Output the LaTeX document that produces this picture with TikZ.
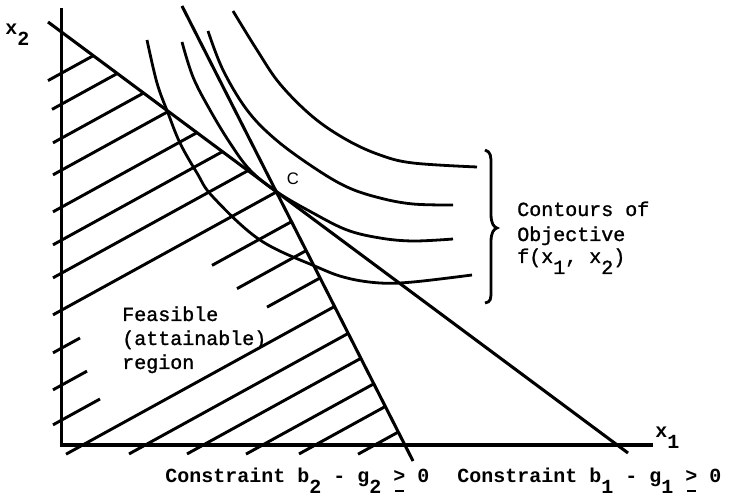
\documentclass[tikz,border=0pt]{standalone}
\usepackage{fontspec}
\setmonofont{Liberation Mono}
\newfontfamily\medmono[FakeBold=1.2]{Liberation Mono}
\newfontfamily\labelsans{Liberation Sans}
\newcommand{\sbs}[1]{\raisebox{-0.55em}{#1}}
\newcommand{\gequnder}{\makebox[0pt][l]{\hspace{0.08em}\rule[-0.5em]{0.44em}{0.1em}}>}
\begin{document}
\begin{tikzpicture}[x=0.75pt,y=-0.75pt,
  axisline/.style={line width=2.4pt},
  conline/.style={line width=2.3pt},
  hatchline/.style={line width=2.2pt},
  contour/.style={line width=2.1pt, smooth, tension=0.6},
  monotext/.style={font=\fontsize{15}{18}\selectfont\medmono, inner sep=0pt, anchor=base west},
  boldtext/.style={font=\fontsize{15}{18}\selectfont\ttfamily\bfseries, inner sep=0pt, anchor=base west}]
\useasboundingbox (0,0) rectangle (731,498);
% key points
\coordinate (O) at (61.5,445);
\coordinate (ytop) at (61.5,8);
\coordinate (xend) at (653,445);
\coordinate (A1) at (48,22);
\coordinate (B1) at (628,453);
\coordinate (A2) at (182,6);
\coordinate (B2) at (413,461);
\coordinate (C) at (278,193);
% hatching, clipped to feasible side
\begin{scope}
  \clip (0,-13.7) -- (C) -- (432,498) -- (0,498) -- cycle;
  \foreach \c/\xa/\xb in {107/48/400, 138/52/400, 172/53/400, 204/53/400, 241/53/400,
      274/53/400, 307/53/400, 344/53/400,
      382/53/80, 382/212/400, 419/53/87, 419/237/400, 454/53/100, 454/267/400,
      490.5/66/400, 524.9/129/450, 556.8/187/450, 589.4/246/450, 618.4/299/450, 651.1/358/450}
    \draw[hatchline] ({\xa},{\c-0.55*\xa}) -- ({\xb},{\c-0.55*\xb});
\end{scope}
% axes
\draw[axisline] (ytop) -- (O) -- (xend);
% constraint lines
\draw[conline] (A1) -- (B1);
\draw[conline] (A2) -- (B2);
% contours
\draw[contour] plot coordinates {(147,40) (157,83) (168,113) (180,143) (197,173) (213,197) (260,240) (317,267) (347,278) (380,283) (413,282) (472,275)};
\draw[contour] plot coordinates {(182,42) (193,77) (210,110) (230,143) (250,170) (277,192) (313,213) (347,230) (380,238) (413,241) (453,239)};
\draw[contour] plot coordinates {(208,31) (223,70) (247,110) (275,139) (313,167) (347,187) (380,198) (413,204) (453,205)};
\draw[contour] plot coordinates {(233,11) (257,50) (280,84) (313,117) (347,140) (380,155) (413,163) (477,167)};
% brace
\draw[line width=2.1pt] (485,150) .. controls (491,152) and (491,156) .. (491,165) -- (491,214)
  .. controls (491,224) and (494,227) .. (497,228)
  .. controls (494,229) and (491,232) .. (491,242) -- (491,290)
  .. controls (491,299) and (491,302) .. (485,303);
% labels
\node[font=\fontsize{12.5}{14}\selectfont\labelsans, inner sep=0pt] (Clab) at (293,179) {C};
\node[boldtext] (x2lab) at (5,35) {x\sbs{2}};
\node[boldtext] (x1lab) at (655,437) {x\sbs{1}};
\node[monotext] (cont1) at (517,216) {Contours of};
\node[monotext] (cont2) at (517,241) {Objective};
\node[monotext] (cont3) at (517,263) {f(x\sbs{1}, x\sbs{2})};
\node[monotext] (feas1) at (122,321) {Feasible};
\node[monotext] (feas2) at (122,345) {(attainable)};
\node[monotext] (feas3) at (122,369) {region};
\node[boldtext] (con2) at (165,482) {Constraint b\sbs{2} - g\sbs{2} \gequnder{} 0};
\node[boldtext] (con1) at (457,482) {Constraint b\sbs{1} - g\sbs{1} \gequnder{} 0};
\end{tikzpicture}
\end{document}
